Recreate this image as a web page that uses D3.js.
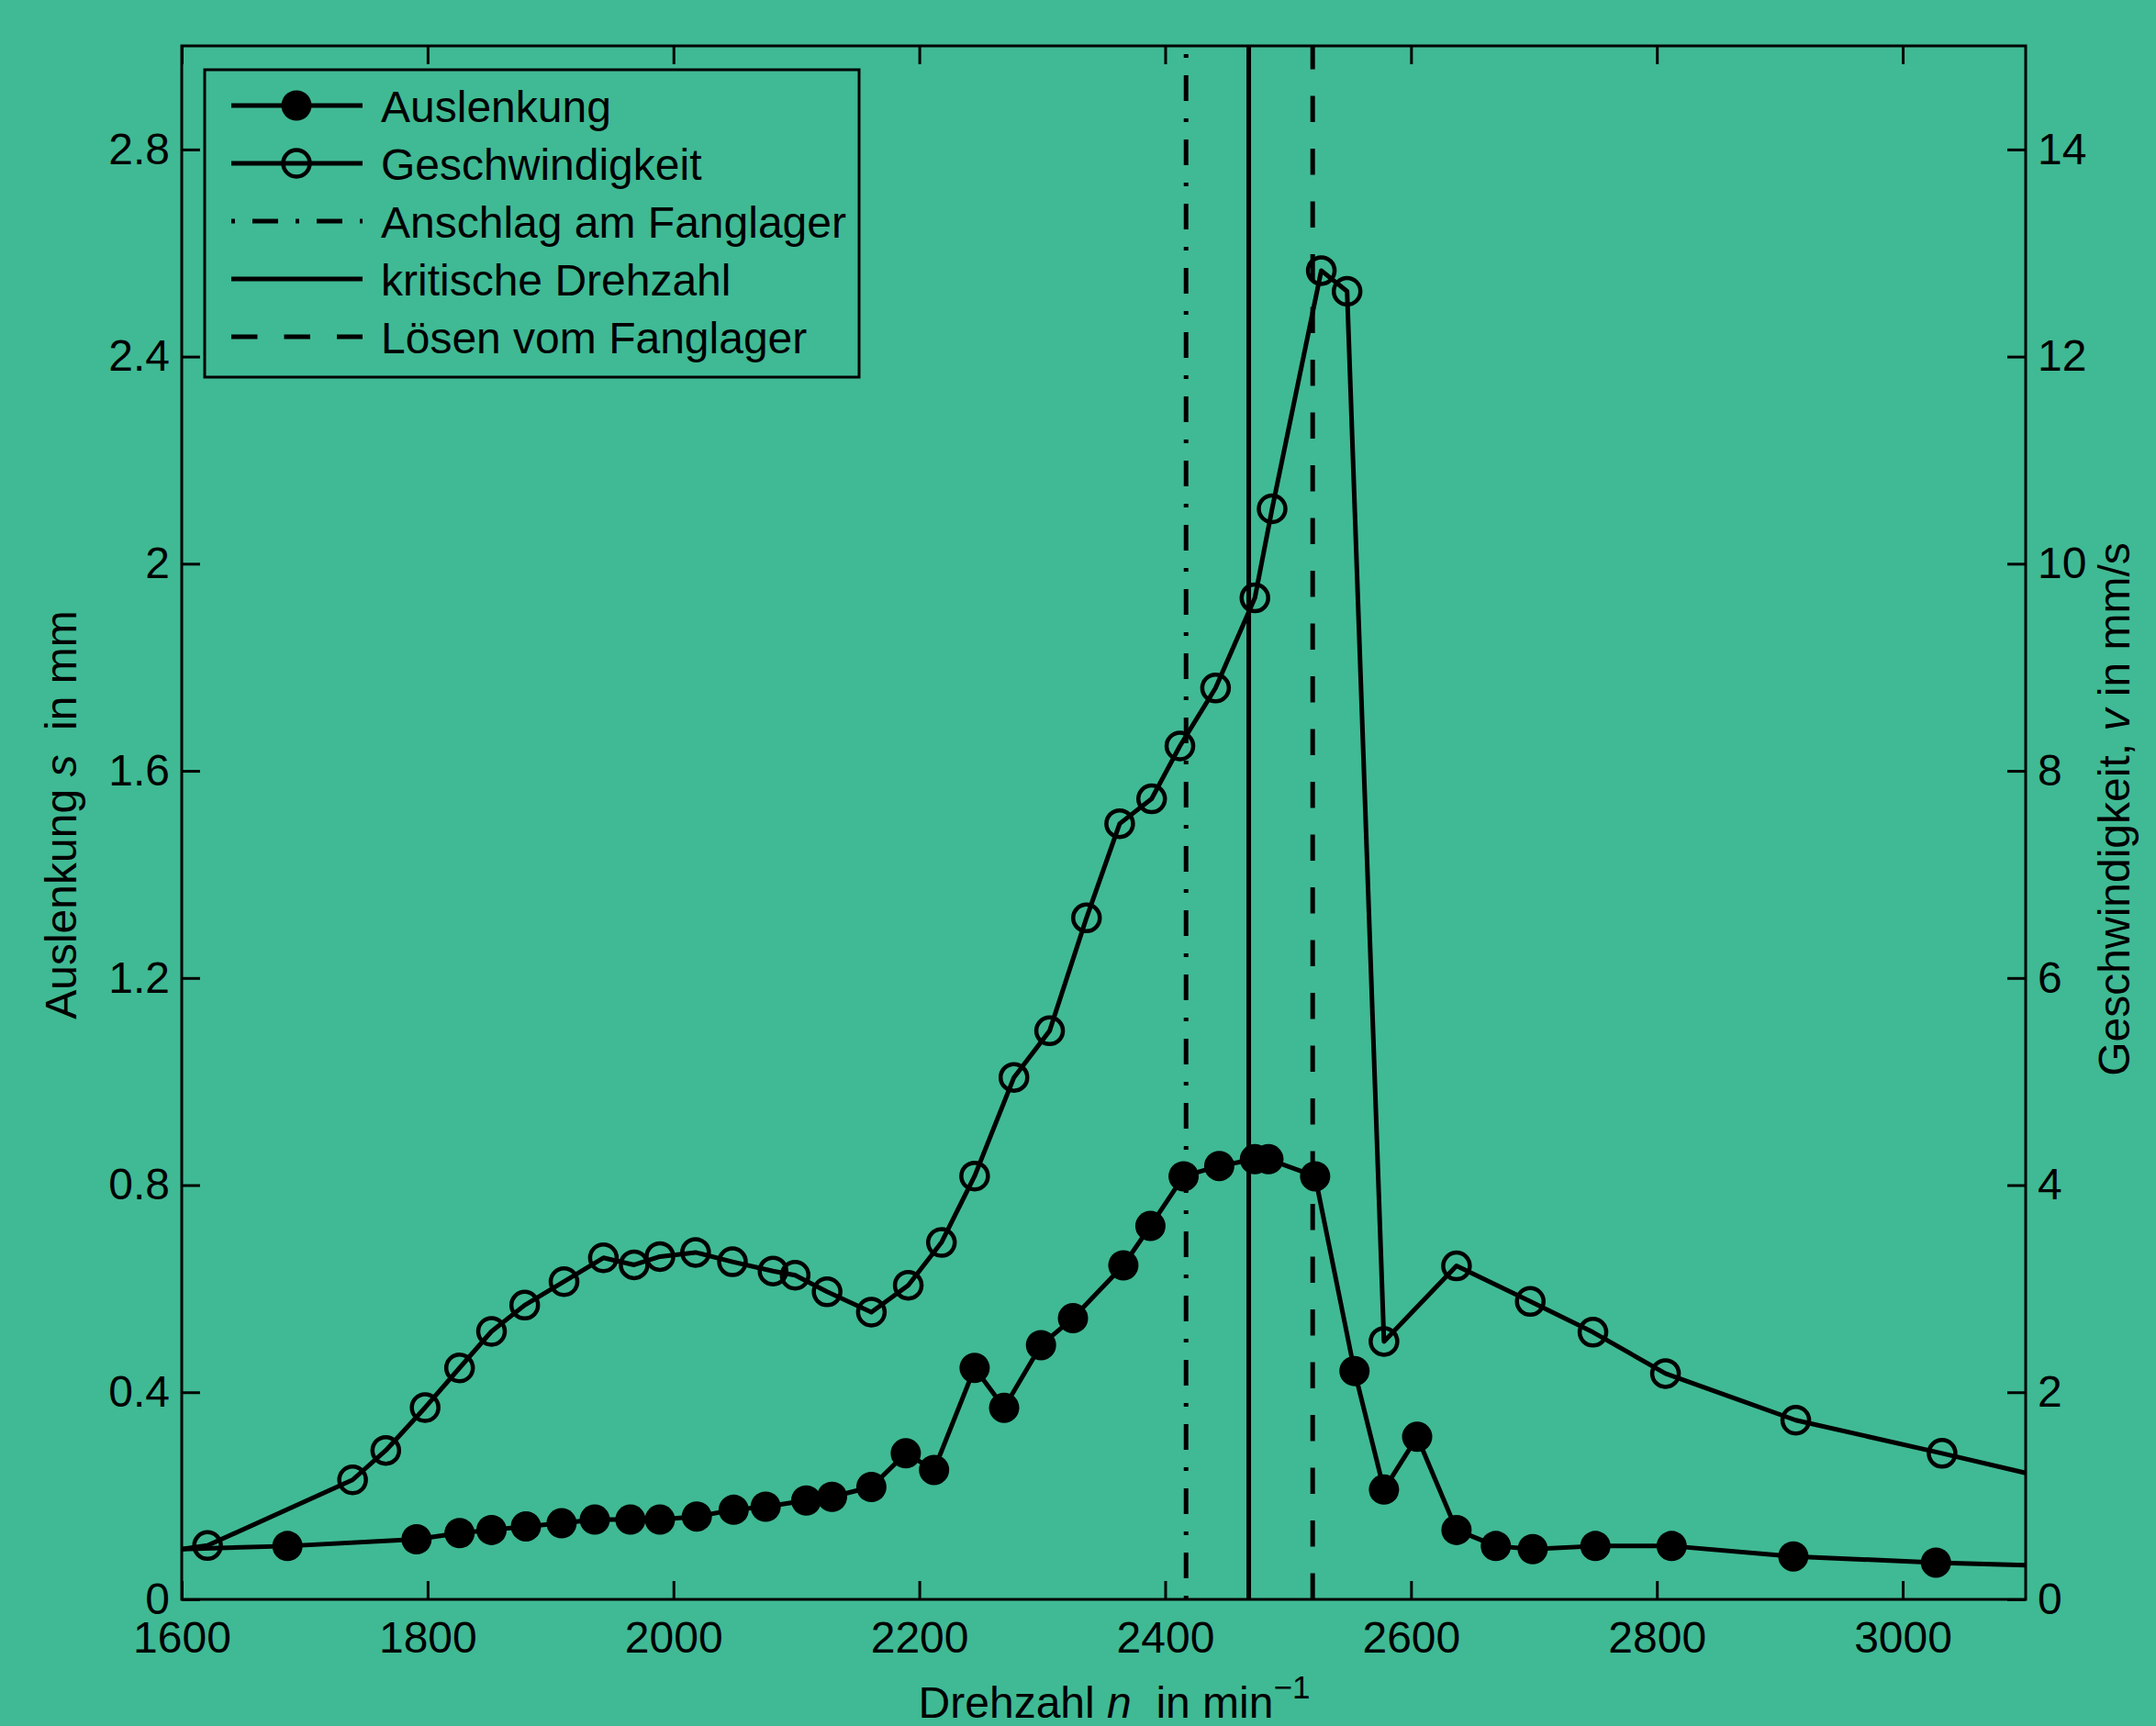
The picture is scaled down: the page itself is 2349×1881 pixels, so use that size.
<!DOCTYPE html>
<html>
<head>
<meta charset="utf-8">
<title>Auslenkung und Geschwindigkeit</title>
<script src="https://cdnjs.cloudflare.com/ajax/libs/d3/7.8.5/d3.min.js"></script>
<style>
body { margin: 0; background: #40ba94; }
text { font-family: "Liberation Sans", Arial, sans-serif; font-size: 48px; fill: #000; }
.tick line { stroke: #000; stroke-width: 3; }
.domain { display: none; }
</style>
</head>
<body>
<svg width="2349" height="1881"></svg>
<script>
// Auslenkung s (mm) over Drehzahl n (1/min); end values at 1600 / 3100 are the line ends at the frame
var drehzahlS = [1600, 1686, 1791, 1826, 1852, 1880, 1909, 1936, 1965, 1989, 2019, 2049, 2075, 2108, 2129,
  2161, 2189, 2212, 2245, 2269, 2299, 2325, 2366, 2388, 2415, 2444, 2473, 2484, 2522, 2554, 2578, 2605,
  2637, 2669, 2699, 2750, 2812, 2911, 3027, 3100];
var auslenkung = [0.097, 0.103, 0.116, 0.128, 0.134, 0.141, 0.147, 0.154, 0.154, 0.154, 0.160, 0.173, 0.179,
  0.191, 0.198, 0.217, 0.282, 0.25, 0.447, 0.370, 0.491, 0.543, 0.645, 0.721, 0.817, 0.837, 0.850, 0.850,
  0.817, 0.441, 0.212, 0.314, 0.134, 0.103, 0.097, 0.103, 0.103, 0.083, 0.071, 0.066];

// Geschwindigkeit v (mm/s)
var drehzahlV = [1600, 1621, 1739, 1766, 1798, 1826, 1852, 1879, 1911, 1943, 1968, 1989, 2018, 2048, 2081,
  2099, 2125, 2161, 2191, 2218, 2245, 2277, 2306, 2336, 2363, 2389, 2412, 2441, 2473, 2487, 2527, 2548,
  2578, 2637, 2697, 2748, 2807, 2913, 3032, 3100];
var geschwindigkeit = [0.485, 0.52, 1.154, 1.438, 1.852, 2.235, 2.587, 2.841, 3.068, 3.298, 3.23, 3.31, 3.35,
  3.26, 3.17, 3.13, 2.97, 2.773, 3.033, 3.446, 4.087, 5.04, 5.49, 6.58, 7.49, 7.73, 8.24, 8.80, 9.67, 10.53,
  12.83, 12.63, 2.49, 3.22, 2.877, 2.58, 2.18, 1.73, 1.41, 1.22];

var xTicks = [1600, 1800, 2000, 2200, 2400, 2600, 2800, 3000];
var sTicks = [0, 0.4, 0.8, 1.2, 1.6, 2, 2.4, 2.8];
var vTicks = [0, 2, 4, 6, 8, 10, 12, 14];

// Anschlag am Fanglager, kritische Drehzahl, Loesen vom Fanglager
var markDrehzahl = [2417, 2468, 2520];
var markDash = ["4,19,28,19", null, "28.5,29"];
var legendNames = ["Auslenkung", "Geschwindigkeit", "Anschlag am Fanglager", "kritische Drehzahl", "L\u00f6sen vom Fanglager"];

var pLeft = 198, pRight = 2207, pTop = 50, pBottom = 1743;
var svg = d3.select("svg");
svg.append("rect").attr("width", 2349).attr("height", 1881).attr("fill", "#40ba94");

var x = d3.scaleLinear().domain([1600, 3100]).range([pLeft, pRight]);
var yS = d3.scaleLinear().domain([0, 3]).range([pBottom, pTop]);
var yV = d3.scaleLinear().domain([0, 15]).range([pBottom, pTop]);

// axes, ticks pointing inward
svg.append("g").attr("transform", "translate(0," + pBottom + ")")
  .call(d3.axisBottom(x).tickValues(xTicks).tickSizeInner(-20).tickSizeOuter(0).tickPadding(24).tickFormat(d3.format("d")));
svg.append("g").attr("transform", "translate(0," + pTop + ")")
  .call(d3.axisTop(x).tickValues(xTicks).tickSizeInner(-20).tickSizeOuter(0).tickFormat(""));
svg.append("g").attr("transform", "translate(" + pLeft + ",0)")
  .call(d3.axisLeft(yS).tickValues(sTicks).tickSizeInner(-20).tickSizeOuter(0).tickPadding(13).tickFormat(function (d) { return d; }));
svg.append("g").attr("transform", "translate(" + pRight + ",0)")
  .call(d3.axisRight(yV).tickValues(vTicks).tickSizeInner(-20).tickSizeOuter(0).tickPadding(13).tickFormat(function (d) { return d; }));
svg.selectAll(".tick text").attr("font-size", null).attr("font-family", null);

svg.append("rect")
  .attr("x", pLeft).attr("y", pTop).attr("width", pRight - pLeft).attr("height", pBottom - pTop)
  .attr("fill", "none").attr("stroke", "#000").attr("stroke-width", 3);

// vertical marker lines, drawn bottom to top
svg.selectAll(".vline")
  .data(markDrehzahl)
  .enter()
    .append("line")
    .attr("class", "vline")
    .attr("x1", function (d) { return x(d); })
    .attr("x2", function (d) { return x(d); })
    .attr("y1", pBottom).attr("y2", pTop)
    .attr("stroke", "#000").attr("stroke-width", 5)
    .attr("stroke-dasharray", function (d, i) { return markDash[i]; });

// data lines
var sData = drehzahlS.map(function (n, i) { return [n, auslenkung[i]]; });
var vData = drehzahlV.map(function (n, i) { return [n, geschwindigkeit[i]]; });
var inside = function (d) { return d[0] > 1600 && d[0] < 3100; };

svg.append("path")
  .datum(vData)
  .attr("fill", "none").attr("stroke", "#000").attr("stroke-width", 5).attr("stroke-linejoin", "round")
  .attr("d", d3.line().x(function (d) { return x(d[0]); }).y(function (d) { return yV(d[1]); }));
svg.append("path")
  .datum(sData)
  .attr("fill", "none").attr("stroke", "#000").attr("stroke-width", 5).attr("stroke-linejoin", "round")
  .attr("d", d3.line().x(function (d) { return x(d[0]); }).y(function (d) { return yS(d[1]); }));

svg.selectAll(".openmark")
  .data(vData.filter(inside))
  .enter()
    .append("circle")
    .attr("class", "openmark")
    .attr("cx", function (d) { return x(d[0]); })
    .attr("cy", function (d) { return yV(d[1]); })
    .attr("r", 14.5)
    .attr("fill", "none").attr("stroke", "#000").attr("stroke-width", 4.5);
svg.selectAll(".fullmark")
  .data(sData.filter(inside))
  .enter()
    .append("circle")
    .attr("class", "fullmark")
    .attr("cx", function (d) { return x(d[0]); })
    .attr("cy", function (d) { return yS(d[1]); })
    .attr("r", 16.5)
    .attr("fill", "#000");

// legend
var lg = svg.append("g");
lg.append("rect")
  .attr("x", 223).attr("y", 76).attr("width", 713).attr("height", 335)
  .attr("fill", "#40ba94").attr("stroke", "#000").attr("stroke-width", 3);
var rows = lg.selectAll(".row")
  .data(legendNames)
  .enter()
    .append("g")
    .attr("class", "row")
    .attr("transform", function (d, i) { return "translate(0," + (115 + i * 63) + ")"; });
rows.append("line")
  .attr("x1", 252).attr("x2", 395)
  .attr("stroke", "#000").attr("stroke-width", 5)
  .attr("stroke-dasharray", function (d, i) { return i < 2 ? null : markDash[i - 2]; });
rows.filter(function (d, i) { return i < 2; })
  .append("circle")
  .attr("cx", 323)
  .attr("r", function (d, i) { return i == 0 ? 16.5 : 14.5; })
  .attr("fill", function (d, i) { return i == 0 ? "#000" : "none"; })
  .attr("stroke", "#000").attr("stroke-width", function (d, i) { return i == 0 ? 0 : 4.5; });
rows.append("text")
  .attr("x", 415).attr("dy", "0.375em")
  .text(function (d) { return d; });

// axis labels
var xl = svg.append("text")
  .attr("x", 1214).attr("y", 1872)
  .attr("text-anchor", "middle")
  .style("white-space", "pre");
xl.append("tspan").text("Drehzahl ");
xl.append("tspan").attr("font-style", "italic").text("n");
xl.append("tspan").text("  in min");
xl.append("tspan").attr("dy", -21).attr("font-size", "35px").text("\u22121");

var sl = svg.append("text")
  .attr("transform", "translate(83,888) rotate(-90)")
  .attr("text-anchor", "middle")
  .style("white-space", "pre");
sl.append("tspan").text("Auslenkung ");
sl.append("tspan").attr("font-style", "italic").text("s");
sl.append("tspan").text("  in mm");

var vl = svg.append("text")
  .attr("transform", "translate(2320,882) rotate(-90)")
  .attr("text-anchor", "middle")
  .style("white-space", "pre");
vl.append("tspan").text("Geschwindigkeit, ");
vl.append("tspan").attr("font-style", "italic").text("v");
vl.append("tspan").text(" in mm/s");
</script>
</body>
</html>
